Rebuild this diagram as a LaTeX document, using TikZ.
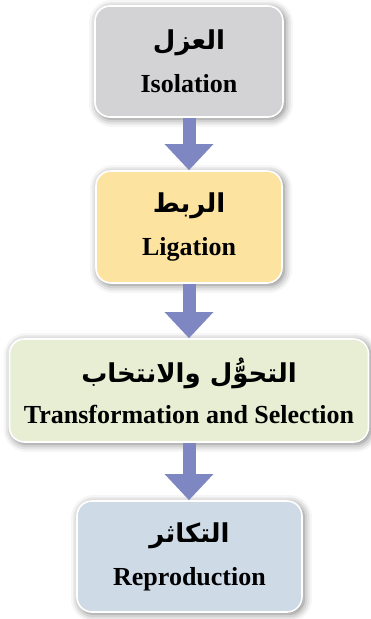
\documentclass[tikz,border=0pt]{standalone}
\usepackage{fontspec}
\setmainfont{Liberation Serif}
\newfontfamily\arabicfont[Script=Arabic]{DejaVu Sans}
\TeXXeTstate=1
\usepackage{tikz}
\usetikzlibrary{arrows.meta}
\usetikzlibrary{shadows.blur}
\definecolor{isogray}{HTML}{D3D2D4}
\definecolor{ligyellow}{HTML}{FCE3A0}
\definecolor{selgreen}{HTML}{E7EED3}
\definecolor{repblue}{HTML}{CEDBE7}
\definecolor{flowblue}{HTML}{7F87C3}
\tikzstyle{stage}=[rectangle, rounded corners=15pt, draw=white, line width=1.6pt,
  blur shadow={shadow xshift=2pt, shadow yshift=-2pt, shadow blur radius=8pt, shadow opacity=55},
  align=center, font=\bfseries\fontsize{26}{30}\selectfont, inner sep=0pt]
\tikzstyle{flow}=[draw=flowblue, line width=13pt, -{Triangle[width=47pt,length=26pt]}]
\newcommand{\ar}[1]{{\arabicfont\bfseries\fontsize{26}{28}\selectfont\beginR #1\endR}}

\begin{document}
\begin{tikzpicture}[x=1pt,y=-1pt]
\useasboundingbox (0,0) rectangle (371,619);
\node[stage, fill=isogray, minimum width=188pt, minimum height=111pt] (iso) at (189,61.5)
  {\ar{العزل}\\[13pt] Isolation};
\node[stage, fill=ligyellow, minimum width=186pt, minimum height=112pt] (lig) at (189,227)
  {\ar{الربط}\\[13pt] Ligation};
\node[stage, fill=selgreen, minimum width=359pt, minimum height=103pt] (sel) at (189,390.5)
  {\ar{التحوُّل والانتخاب}\\[11pt] Transformation and Selection};
\node[stage, fill=repblue, minimum width=225pt, minimum height=111pt] (rep) at (189.5,556.5)
  {\ar{التكاثر}\\[13pt] Reproduction};
% arrows between the steps
\draw[flow] (iso.south) -- (iso.south |- lig.north);
\draw[flow] (lig.south) -- (lig.south |- sel.north);
\draw[flow] (sel.south) -- (sel.south |- rep.north);
\end{tikzpicture}
\end{document}
